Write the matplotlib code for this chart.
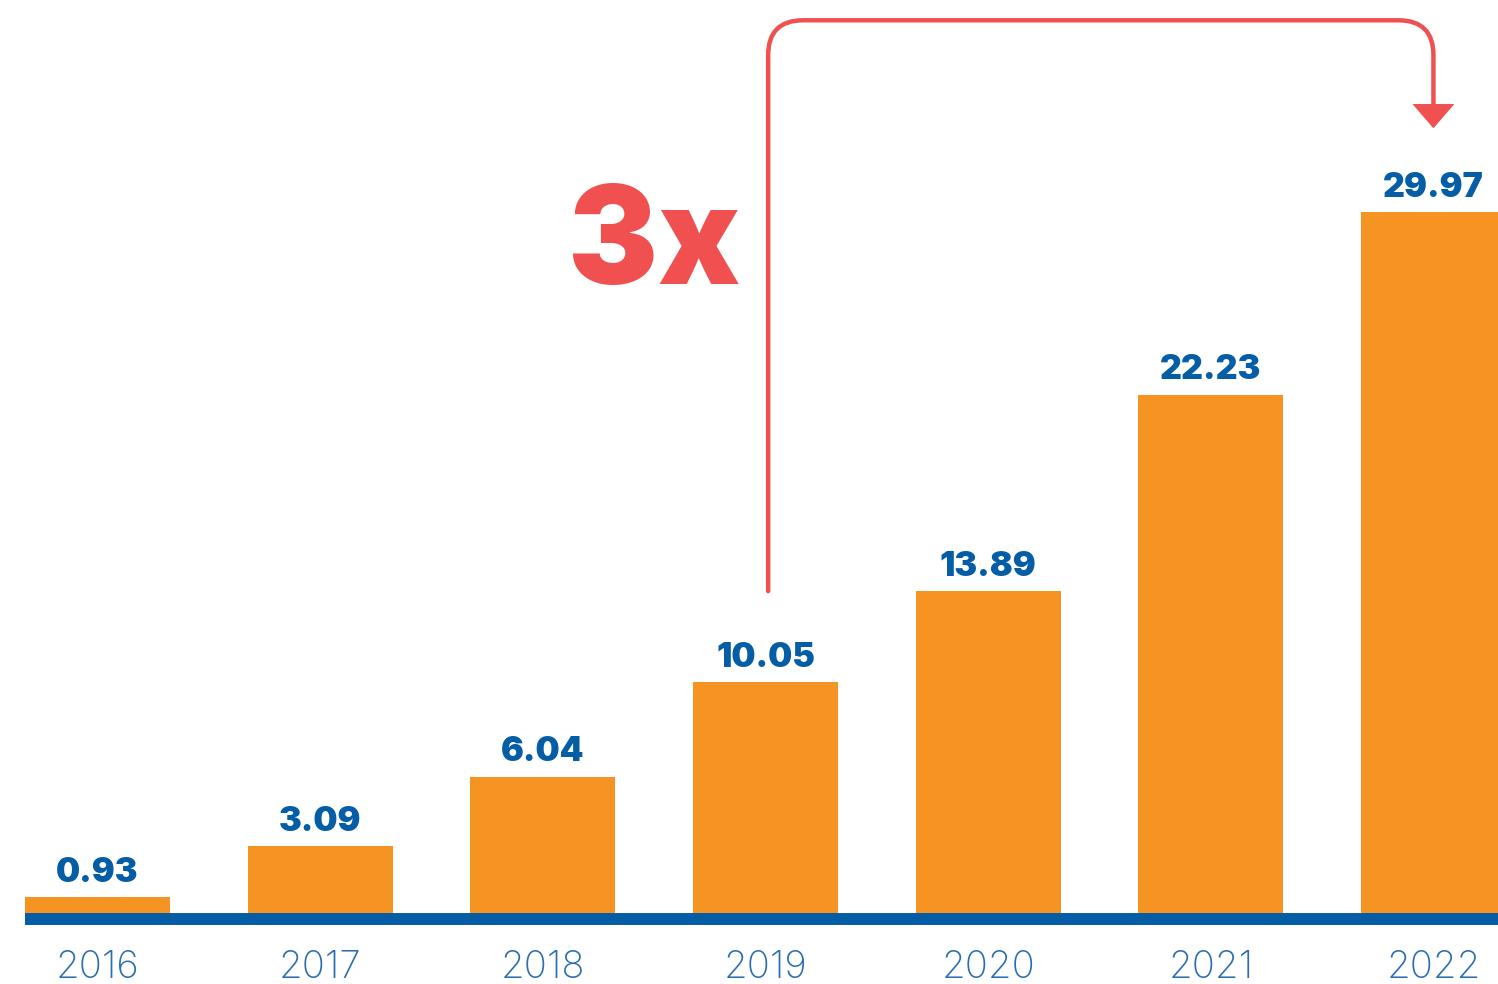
import matplotlib.pyplot as plt
from matplotlib.path import Path
from matplotlib import patches

years = ['2016', '2017', '2018', '2019', '2020', '2021', '2022']
values = [0.93, 3.09, 6.04, 10.05, 13.89, 22.23, 29.97]

orange = '#F59323'
blue = '#045DA5'
year_blue = '#2A6DB0'
red = '#F05050'

fig = plt.figure(figsize=(14.98, 9.84), dpi=100)
ax = fig.add_axes([0, 0, 1, 1])
ax.set_xlim(-0.438, 6.290)
ax.set_ylim(-2.755, 38.96)
ax.axis('off')

x = list(range(len(years)))
width = 0.651
ax.bar(x, values, width=width, color=orange, zorder=2)

# baseline strip under the bars
ax.hlines(0, x[0] - width / 2, 6.290, color=blue, linewidth=8.6, zorder=3)

for xi, v in zip(x, values):
    ax.annotate(f'{v:.2f}', (xi, v), xytext=(0, 11), textcoords='offset points',
                ha='center', va='baseline', fontsize=24.5, fontweight=900,
                family=['Inter', 'DejaVu Sans'], color=blue, zorder=4)
    ax.text(xi, -2.50, years[xi], ha='center', va='baseline', fontsize=27.5,
            fontweight=250, family=['Inter', 'DejaVu Sans'], color=year_blue)

# growth arrow from 2019 to 2022
x0, x1 = x[3] + 0.012, x[6]
y_start = values[3] + 3.85
y_top = 38.1
head_base = 34.5
rx, ry = 0.157, 1.48
verts = [(x0, y_start), (x0, y_top - ry), (x0, y_top), (x0 + rx, y_top),
         (x1 - rx, y_top), (x1, y_top), (x1, y_top - ry), (x1, head_base)]
codes = [Path.MOVETO, Path.LINETO, Path.CURVE3, Path.CURVE3,
         Path.LINETO, Path.CURVE3, Path.CURVE3, Path.LINETO]
ax.add_patch(patches.PathPatch(Path(verts, codes), facecolor='none',
                               edgecolor=red, linewidth=3.2, capstyle='round',
                               zorder=5))
ax.add_patch(patches.Polygon([(x1 - 0.094, head_base + 0.05), (x1 + 0.094, head_base + 0.05),
                              (x1, head_base - 0.98)], closed=True,
                             facecolor=red, edgecolor='none', zorder=5))

ax.text(x0 - 0.126, 26.9, '3x', ha='right', va='baseline', fontsize=97,
        fontweight=900, family=['Inter', 'DejaVu Sans'], color=red)

fig.savefig('out.png', dpi=100)
